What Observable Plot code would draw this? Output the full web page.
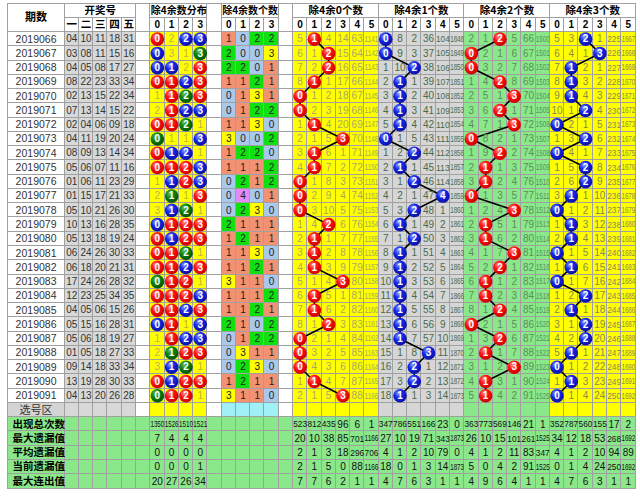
<!DOCTYPE html>
<html><head><meta charset="utf-8">
<script src="https://cdn.jsdelivr.net/npm/d3@7"></script>
<script src="https://cdn.jsdelivr.net/npm/@observablehq/plot@0.6"></script>
<style>body{margin:0;background:#fff}</style>
</head><body><div id="chart"></div>
<script>
// ---------- data ----------
const periods = ["2019066","2019067","2019068","2019069","2019070","2019071","2019072","2019073","2019074","2019075","2019076","2019077","2019078","2019079","2019080","2019081","2019082","2019083","2019084","2019085","2019086","2019087","2019088","2019089","2019090","2019091"];
const draws = [
 [4,10,11,18,31],[3,8,11,15,16],[4,5,8,17,27],[8,22,23,33,34],[2,13,15,22,34],
 [7,13,14,15,22],[2,4,6,9,18],[4,11,19,20,24],[8,9,13,14,34],[5,6,7,11,16],
 [1,6,11,23,29],[1,15,17,21,33],[5,10,21,26,30],[10,13,16,28,35],[5,13,18,19,24],
 [6,24,26,30,33],[6,18,20,21,31],[17,24,26,28,32],[12,23,25,34,35],[4,5,6,15,26],
 [5,15,16,28,31],[5,6,18,19,27],[1,5,18,27,33],[9,14,18,33,34],[13,19,28,30,33],
 [4,13,20,26,28]
];
// counts of numbers with remainder 0,1,2,3 (除4余数个数)
const mod4Counts = [
 [1,0,2,2],[2,0,0,3],[2,2,0,1],[1,1,2,1],[0,1,3,1],[0,1,2,2],[1,1,3,0],[3,0,0,2],
 [1,2,2,0],[1,1,1,2],[0,2,1,2],[0,4,0,1],[0,2,3,0],[2,1,1,1],[1,2,1,1],[1,1,3,0],
 [1,1,2,1],[3,1,1,0],[1,1,1,2],[1,1,2,1],[2,1,0,2],[0,1,2,2],[0,3,1,1],[0,2,3,0],
 [1,2,1,1],[3,1,1,0]
];
// omission values shown in the first row (null where a ball is drawn)
const distFirstOmission = [null, 2, null, null];
const secFirstOmission = [
 [5, null, 4, 14, 63, 1141],
 [null, 8, 2, 36, 104, 1848],
 [2, 1, null, 5, 66, 1500],
 [5, 3, null, 1, 225, 1667]
];
const drawLabels = ["一","二","三","四","五"];
const distLabels = ["0","1","2","3"];
const secLabels = ["0","1","2","3","4","5"];
const sectionTitles = ["除4余0个数","除4余1个数","除4余2个数","除4余3个数"];
const statLabels = ["出现总次数","最大遗漏值","平均遗漏值","当前遗漏值","最大连出值"];
const distStats = [[1350,1526,1510,1521],[7,4,4,4],[0,0,0,0],[0,0,0,1],[20,27,26,34]];
const secStats = [
 [[523,812,435,96,6,1],[20,10,38,85,701,1166],[2,1,3,18,296,706],[2,1,5,0,88,1166],[7,7,6,2,1,1]],
 [[347,786,551,166,23,0],[27,10,19,71,343,1873],[4,1,2,10,79,0],[18,0,1,3,14,1873],[4,7,6,3,1,1]],
 [[363,773,569,146,21,1],[26,10,15,101,261,1525],[4,1,2,11,83,347],[5,0,4,2,91,1525],[4,9,6,4,1,1]],
 [[352,787,560,155,17,2],[34,12,18,53,268,1692],[4,1,2,10,94,89],[0,1,4,24,250,1692],[4,7,6,3,1,1]]
];

// ---------- layout (grid units) ----------
const DRAW0 = 4, GAP1 = 9, DIST0 = 10, GAP2 = 14, CNT0 = 15, GAP3 = 19, SEC0 = 20, NCOL = 44;
const DATA0 = 2, PICK = DATA0 + periods.length, STAT0 = PICK + 1, NROW = STAT0 + statLabels.length;
const C = {
  white:"#ffffff", drawBg:"#d8d8d8", yellow:"#ffff00", secGray:"#d6d6d6", green:"#8ae88a",
  pick:"#a0f0f8", pickLabel:"#d4d4d4", grid:"#a0a0a0"
};
const secBg = [C.yellow, C.secGray, C.green, C.yellow];
const secText = ["#aaa66a", "#4a6a4a", "#5c8c5c", "#8a8a50"];
const secBall = ["url(#gRed)", "url(#gBlue)", "url(#gRed)", "url(#gBlue)"];
const countBg = ["#a8c8ec","#f29272","#10e010","#ffff00","#e28cf5"];
const distBall = n => n === 1 ? "url(#gRed)" : n === 2 ? "url(#gBlue)" : "url(#gGreen)";

// ---------- build cells / texts / balls ----------
const cells = [], texts = [], balls = [];
const LAT = "Liberation Sans, Arial, sans-serif";
const CJK = "Noto Sans CJK SC, sans-serif";
const cell = (x1,x2,y1,y2,fill) => cells.push({x1,x2,y1,y2,fill});
const numSize = v => { const n = String(v).length; return n >= 4 ? 8.5 : n === 3 ? 9.5 : 10; };
const txt = (x,y,t,o={}) => texts.push({x,y,t:String(t),fill:o.fill||"#222",size:o.size||10,weight:o.weight||"normal",anchor:o.anchor||"middle",font:o.font||LAT,fit:!!o.fit});

// header
cell(0,DRAW0,0,2,C.white); txt(DRAW0/2,1,"期数",{weight:"bold",size:11,font:CJK,fill:"#000"});
cell(DRAW0,GAP1,0,1,C.white); txt((DRAW0+GAP1)/2,0.5,"开奖号",{weight:"bold",size:10.5,font:CJK,fill:"#000"});
drawLabels.forEach((l,k)=>{cell(DRAW0+k,DRAW0+k+1,1,2,C.white); txt(DRAW0+k+0.5,1.5,l,{weight:"bold",size:10.5,font:CJK,fill:"#000"});});
[GAP1,GAP2,GAP3].forEach(g=>cell(g,g+1,0,2,C.white));
cell(DIST0,DIST0+4,0,1,C.white); txt(DIST0+2,0.5,"除4余数分布",{weight:"bold",size:10,font:CJK,fill:"#000"});
cell(CNT0,CNT0+4,0,1,C.white); txt(CNT0+2,0.5,"除4余数个数",{weight:"bold",size:10,font:CJK,fill:"#000"});
distLabels.forEach((l,k)=>{
  cell(DIST0+k,DIST0+k+1,1,2,C.white); txt(DIST0+k+0.5,1.5,l,{weight:"bold",fill:"#000"});
  cell(CNT0+k,CNT0+k+1,1,2,C.white); txt(CNT0+k+0.5,1.5,l,{weight:"bold",fill:"#000"});
});
sectionTitles.forEach((t,s)=>{
  const x0 = SEC0 + 6*s;
  cell(x0,x0+6,0,1,C.white); txt(x0+3,0.5,t,{weight:"bold",size:10.5,font:CJK,fill:"#000"});
  secLabels.forEach((l,k)=>{cell(x0+k,x0+k+1,1,2,C.white); txt(x0+k+0.5,1.5,l,{weight:"bold",fill:"#000"});});
});

// data rows
const distOmit = [0,1,2,3].map(r=>distFirstOmission[r]);
const secOmit = secFirstOmission.map(a=>a.slice());
periods.forEach((p,i)=>{
  const y = DATA0 + i, yc = y + 0.5;
  cell(0,DRAW0,y,y+1,C.white); txt(DRAW0/2,yc,p,{fill:"#333",size:10.5});
  draws[i].forEach((d,k)=>{cell(DRAW0+k,DRAW0+k+1,y,y+1,C.drawBg); txt(DRAW0+k+0.5,yc,String(d).padStart(2,"0"),{fill:"#333"});});
  [GAP1,GAP2,GAP3].forEach(g=>cell(g,g+1,y,y+1,C.white));
  const cnt = mod4Counts[i];
  for (let r=0;r<4;r++){
    cell(DIST0+r,DIST0+r+1,y,y+1,C.yellow);
    if (cnt[r] > 0) { distOmit[r] = 0; balls.push({x:DIST0+r+0.5,y:yc,fill:distBall(cnt[r]),t:String(r),g:"dist"}); }
    else { if (i>0) distOmit[r] = distOmit[r] + 1; txt(DIST0+r+0.5,yc,distOmit[r],{fill:"#c0b050"}); }
    cell(CNT0+r,CNT0+r+1,y,y+1,countBg[cnt[r]]); txt(CNT0+r+0.5,yc,cnt[r],{fill:"#222"});
    const x0 = SEC0 + 6*r;
    for (let c=0;c<6;c++){
      cell(x0+c,x0+c+1,y,y+1,secBg[r]);
      if (c === cnt[r]) { secOmit[r][c] = 0; balls.push({x:x0+c+0.5,y:yc,fill:secBall[r],t:String(c),g:"s"+r}); }
      else { if (i>0) secOmit[r][c] = secOmit[r][c] + 1; const v = secOmit[r][c]; txt(x0+c+0.5,yc,v,{fill:secText[r],size:numSize(v),fit:true}); }
    }
  }
});

// pick row (选号区)
{
  const y = PICK;
  cell(0,DRAW0,y,y+1,C.pickLabel); txt(DRAW0/2,y+0.5,"选号区",{size:11,font:CJK,fill:"#333"});
  for (let k=0;k<5;k++) cell(DRAW0+k,DRAW0+k+1,y,y+1,C.drawBg);
  [GAP1,GAP2,GAP3].forEach(g=>cell(g,g+1,y,y+1,C.white));
  for (let r=0;r<4;r++){
    cell(DIST0+r,DIST0+r+1,y,y+1,C.yellow);
    cell(CNT0+r,CNT0+r+1,y,y+1,C.pick);
    for (let c=0;c<6;c++) cell(SEC0+6*r+c,SEC0+6*r+c+1,y,y+1,secBg[r]);
  }
}
// stats rows
statLabels.forEach((l,s)=>{
  const y = STAT0 + s, yc = y + 0.5;
  cell(0,DRAW0,y,y+1,C.green); txt(0,yc,l,{weight:"bold",size:10.5,font:CJK,fill:"#000",anchor:"start"});
  for (let k=DRAW0;k<NCOL;k++) cell(k,k+1,y,y+1,C.green);
  distStats[s].forEach((v,r)=>txt(DIST0+r+0.5,yc,v,{fill:"#111",size:numSize(v),fit:true}));
  secStats.forEach((sec,r)=>sec[s].forEach((v,c)=>txt(SEC0+6*r+c+0.5,yc,v,{fill:"#111",size:numSize(v),fit:true})));
});

// ---------- plot ----------
const textMarks = d3.groups(texts, t => [t.font,t.weight,t.anchor,t.fit].join("|")).map(([key,arr])=>{
  const [font,weight,anchor,fit] = key.split("|");
  return Plot.text(arr,{x:"x",y:"y",text:"t",fill:"fill",fontSize:d=>d.size,fontWeight:weight,fontFamily:font,textAnchor:anchor,dx:anchor==="start"?5:0,className:fit==="true"?"fit":undefined});
});
const chart = Plot.plot({
  width: 640, height: 497, margin: 0,
  x: {domain:[0,NCOL], range:[7,635], axis:null},
  y: {domain:[0,NROW], range:[3,488], axis:null},
  color: {type:"identity"},
  style: {background:"#fff"},
  marks: [
    Plot.rect(cells,{x1:"x1",x2:"x2",y1:"y1",y2:"y2",fill:"fill",stroke:C.grid,strokeWidth:1,shapeRendering:"crispEdges"}),
    Plot.line(balls.filter(b=>b.g!=="dist"),{x:"x",y:"y",z:"g",stroke:"#000",strokeWidth:1.6}),
    ...textMarks,
    Plot.dot(balls,{x:"x",y:"y",r:6.8,fill:"fill",stroke:null}),
    Plot.text(balls,{x:"x",y:"y",text:"t",fill:"#fff",fontSize:10,fontWeight:"bold",fontFamily:LAT})
  ]
});
// ball gradients
const ns = "http://www.w3.org/2000/svg";
const defs = document.createElementNS(ns,"defs");
[["gRed","#ff9090","#ff1010","#c80000"],["gBlue","#8a9cff","#1426e8","#0a10a0"],["gGreen","#6cc06c","#0a840a","#045004"]].forEach(([id,a,b,c])=>{
  const g = document.createElementNS(ns,"radialGradient");
  g.setAttribute("id",id); g.setAttribute("cx","0.38"); g.setAttribute("cy","0.32"); g.setAttribute("r","0.7");
  [["0%",a],["45%",b],["100%",c]].forEach(([o,col])=>{const s=document.createElementNS(ns,"stop");s.setAttribute("offset",o);s.setAttribute("stop-color",col);g.appendChild(s);});
  defs.appendChild(g);
});
chart.insertBefore(defs, chart.firstChild);
document.getElementById("chart").appendChild(chart);
// squeeze wide numbers into their cells (the source table clips them)
const cellW = 628 / NCOL - 0.4;
chart.querySelectorAll("g.fit text").forEach(el=>{
  if (el.getComputedTextLength() > cellW) {
    el.setAttribute("textLength", cellW);
    el.setAttribute("lengthAdjust", "spacingAndGlyphs");
  }
});
</script>
</body></html>
